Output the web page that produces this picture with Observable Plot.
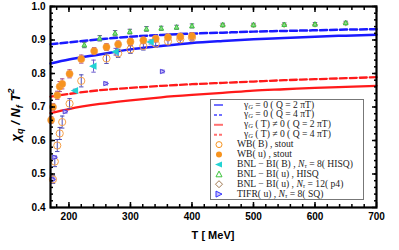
<!DOCTYPE html>
<html><head><meta charset="utf-8">
<script src="https://cdn.jsdelivr.net/npm/d3@7"></script>
<script src="https://cdn.jsdelivr.net/npm/@observablehq/plot@0.6"></script>
<style>
body{margin:0;background:#fff}
#c{position:relative;width:399px;height:250px}
#leg{position:absolute;left:210px;top:99px;width:154px;height:101px;border:1px solid #777;background:#fff;font-family:"Liberation Serif",serif;font-size:9.6px;color:#222;box-sizing:border-box;overflow:hidden}
#leg .row{position:absolute;left:0;height:10px;line-height:10px;white-space:nowrap}
#leg sub{font-size:6.5px;line-height:0;position:relative;top:1px;vertical-align:baseline;font-style:italic}
#leg svg{position:absolute;left:0;top:0}
</style>
</head><body><div id="c"></div>
<script>
// ---- curves ----
const T_curve = [170, 200, 250, 300, 350, 400, 450, 500, 550, 600, 650, 700];
const blueSolid = [0.830, 0.842, 0.857, 0.872, 0.882, 0.891, 0.897, 0.902, 0.906, 0.910, 0.913, 0.916];
const blueDash  = [0.887, 0.893, 0.902, 0.910, 0.915, 0.919, 0.922, 0.925, 0.927, 0.929, 0.931, 0.932];
const redSolid  = [0.682, 0.694, 0.709, 0.720, 0.729, 0.736, 0.742, 0.749, 0.753, 0.757, 0.760, 0.763];
const redDash   = [0.731, 0.739, 0.750, 0.757, 0.763, 0.768, 0.772, 0.776, 0.780, 0.783, 0.786, 0.789];

// ---- lattice data ----
const wbu_T   = [171, 174, 181, 185, 189, 201, 220, 241, 261, 280, 300, 321, 341, 361, 381, 400];
const wbu_v   = [0.661, 0.700, 0.735, 0.761, 0.769, 0.799, 0.843, 0.867, 0.879, 0.887, 0.895, 0.899, 0.904, 0.908, 0.910, 0.912];
const wbu_e   = [0.010, 0.010, 0.012, 0.015, 0.015, 0.012, 0.012, 0.010, 0.010, 0.010, 0.010, 0.010, 0.010, 0.010, 0.010, 0.010];

const wbb_T   = [174, 177, 181, 185, 189, 201, 220, 261, 280, 300, 321, 341, 361, 381, 400];
const wbb_v   = [0.484, 0.537, 0.585, 0.621, 0.655, 0.710, 0.778, 0.845, 0.860, 0.872, 0.882, 0.889, 0.896, 0.902, 0.907];
const wbb_e   = [0.012, 0.015, 0.018, 0.018, 0.018, 0.015, 0.018, 0.015, 0.012, 0.012, 0.012, 0.010, 0.010, 0.010, 0.010];

const bnlB_T  = [210, 240, 276, 333];
const bnlB_v  = [0.749, 0.822, 0.865, 0.894];
const bnlB_e  = [0.004, 0.018, 0.010, 0.006];

const bnlU_T  = [225, 250, 275, 299, 326, 350, 375, 400, 450, 500, 550, 600, 650];
const bnlU_v  = [0.885, 0.905, 0.920, 0.925, 0.933, 0.935, 0.938, 0.942, 0.945, 0.945, 0.946, 0.947, 0.951];
const bnlU_e  = [0.008, 0.008, 0.008, 0.007, 0.007, 0.006, 0.006, 0.006, 0.005, 0.005, 0.005, 0.005, 0.005];

const p4_T    = [450, 500, 550, 600, 650];
const p4_v    = [0.944, 0.944, 0.945, 0.946, 0.950];

const tifr_T  = [174, 177, 194, 260, 352];
const tifr_v  = [0.484, 0.550, 0.686, 0.770, 0.806];

const xTicks = [200, 300, 400, 500, 600, 700];
const yTicks = [0.4, 0.5, 0.6, 0.7, 0.8, 0.9, 1.0];
const xMinor = d3.range(180, 700, 20);
const yMinor = d3.range(0.42, 1.0, 0.02);

const legendLabels = [
  "γ<sub>G</sub> = 0 ( Q = 2 πT)",
  "γ<sub>G</sub> = 0 ( Q = 4 πT)",
  "γ<sub>G</sub> ( T) ≠ 0 ( Q = 2 πT)",
  "γ<sub>G</sub> ( T) ≠ 0 ( Q = 4 πT)",
  "WB( B) ,  stout",
  "WB( u) ,  stout",
  "BNL − BI( B) ,  <i>N</i><sub>τ</sub> = 8( HISQ)",
  "BNL − BI( u) ,  HISQ",
  "BNL − BI( u) ,  <i>N</i><sub>τ</sub> = 12( p4)",
  "TIFR( u) ,  <i>N</i><sub>τ</sub> = 8( SQ)"
];

// ---- build tables ----
const curves = [
  ...T_curve.map((t,i)=>({T:t, v:blueSolid[i], s:"bs"})),
  ...T_curve.map((t,i)=>({T:t, v:blueDash[i], s:"bd"})),
  ...T_curve.map((t,i)=>({T:t, v:redSolid[i], s:"rs"})),
  ...T_curve.map((t,i)=>({T:t, v:redDash[i], s:"rd"}))
];
const wbu = wbu_T.map((t,i)=>({T:t, v:wbu_v[i], e:wbu_e[i]}));
const wbb = wbb_T.map((t,i)=>({T:t, v:wbb_v[i], e:wbb_e[i]}));
const bnlB = bnlB_T.map((t,i)=>({T:t, v:bnlB_v[i], e:bnlB_e[i]}));
const bnlU = bnlU_T.map((t,i)=>({T:t, v:bnlU_v[i], e:bnlU_e[i]}));
const p4 = p4_T.map((t,i)=>({T:t, v:p4_v[i]}));
const tifr = tifr_T.map((t,i)=>({T:t, v:tifr_v[i], e:0.004}));

// custom symbols
const rr = s => Math.sqrt(s/Math.PI);
const hbar = {draw(c,s){const r=rr(s); c.moveTo(-r,0); c.lineTo(r,0);}};
const triLeft = {draw(c,s){const r=rr(s); c.moveTo(-r,0); c.lineTo(r*0.8,-r*0.85); c.lineTo(r*0.8,r*0.85); c.closePath();}};
const triRight = {draw(c,s){const r=rr(s); c.moveTo(r,0); c.lineTo(-r*0.8,-r*0.85); c.lineTo(-r*0.8,r*0.85); c.closePath();}};
const triUp = {draw(c,s){const r=rr(s); c.moveTo(0,-r); c.lineTo(r*0.9,r*0.7); c.lineTo(-r*0.9,r*0.7); c.closePath();}};
const diamond = {draw(c,s){const r=rr(s); c.moveTo(0,-r); c.lineTo(r,0); c.lineTo(0,r); c.lineTo(-r,0); c.closePath();}};

const ORANGE = "#f7931e", OPEN = "#f5a04a", EB1 = "#a0468c", EB2 = "#4d4db8";
const CYAN = "#22d3d3", GREEN = "#3cc43c", PURP = "#5544dd", BROWN = "#a07850";

function errMarks(data, color){
  return [
    Plot.ruleX(data, {x:"T", y1:d=>d.v-d.e, y2:d=>d.v+d.e, stroke:color, strokeWidth:1}),
    Plot.dot(data, {x:"T", y:d=>d.v-d.e, symbol:hbar, r:2.2, stroke:color, strokeWidth:1}),
    Plot.dot(data, {x:"T", y:d=>d.v+d.e, symbol:hbar, r:2.2, stroke:color, strokeWidth:1})
  ];
}

const chart = Plot.plot({
  width: 399, height: 250,
  marginLeft: 50, marginRight: 23, marginTop: 6, marginBottom: 43,
  style: {fontFamily: "Liberation Sans, Arial, sans-serif", background: "#fff"},
  x: {domain: [170, 700]},
  y: {domain: [0.4, 1.0]},
  marks: [
    Plot.line(curves.filter(d=>d.s==="rs"), {x:"T", y:"v", stroke:"#ff1a1a", strokeWidth:2.3, curve:"monotone-x"}),
    Plot.line(curves.filter(d=>d.s==="rd"), {x:"T", y:"v", stroke:"#ff1a1a", strokeWidth:2.3, strokeDasharray:"7,3", curve:"monotone-x"}),
    Plot.line(curves.filter(d=>d.s==="bs"), {x:"T", y:"v", stroke:"#1a1aff", strokeWidth:2.5, curve:"monotone-x"}),
    Plot.line(curves.filter(d=>d.s==="bd"), {x:"T", y:"v", stroke:"#1a1aff", strokeWidth:2.5, strokeDasharray:"7,3", curve:"monotone-x"}),
    ...errMarks(bnlU, "#5a5a8a"),
    Plot.dot(p4, {x:"T", y:"v", symbol:diamond, r:2.6, stroke:BROWN, strokeWidth:0.8}),
    Plot.dot(bnlU, {x:"T", y:"v", symbol:triUp, r:2.6, stroke:GREEN, fill:"#8fd88f", strokeWidth:1}),
    ...errMarks(wbb, EB2),
    Plot.dot(wbb, {x:"T", y:"v", r:3.6, stroke:OPEN, strokeWidth:1, fill:"none"}),
    ...errMarks(wbu, EB1),
    Plot.dot(wbu, {x:"T", y:"v", r:3.6, fill:ORANGE, stroke:"#f5a050", strokeWidth:0.5}),
    ...errMarks(bnlB, "#6a5acd"),
    Plot.dot(bnlB, {x:"T", y:"v", symbol:triLeft, r:2.8, fill:CYAN, stroke:CYAN}),
    ...errMarks(tifr, PURP),
    Plot.dot(tifr, {x:"T", y:"v", symbol:triRight, r:2.6, stroke:PURP, fill:"#c8c0f8", strokeWidth:1}),
    // axes labels
    Plot.axisX(xTicks, {anchor:"bottom", tickSize:0, tickPadding:5, fontSize:10, fontWeight:"bold", label:null, tickFormat:d=>String(d)}),
    Plot.axisY(yTicks, {anchor:"left", tickSize:0, tickPadding:5, fontSize:10, fontWeight:"bold", label:null, tickFormat:d3.format(".1f")}),
    // inward ticks all sides
    Plot.axisX(xTicks, {anchor:"bottom", tickSize:-5, strokeWidth:1.5, tickFormat:()=>"", label:null}),
    Plot.axisX(xMinor, {anchor:"bottom", tickSize:-3, strokeWidth:1.5, tickFormat:()=>"", label:null}),
    Plot.axisX(xTicks, {anchor:"top", tickSize:-5, strokeWidth:1.5, tickFormat:()=>"", label:null}),
    Plot.axisX(xMinor, {anchor:"top", tickSize:-3, strokeWidth:1.5, tickFormat:()=>"", label:null}),
    Plot.axisY(yTicks, {anchor:"left", tickSize:-5, strokeWidth:1.5, tickFormat:()=>"", label:null}),
    Plot.axisY(yMinor, {anchor:"left", tickSize:-3, strokeWidth:1.5, tickFormat:()=>"", label:null}),
    Plot.axisY(yTicks, {anchor:"right", tickSize:-5, strokeWidth:1.5, tickFormat:()=>"", label:null}),
    Plot.axisY(yMinor, {anchor:"right", tickSize:-3, strokeWidth:1.5, tickFormat:()=>"", label:null}),
    Plot.frame({stroke:"#000", strokeWidth:2.2})
  ]
});

const svg = d3.select(chart);
// y label
const yl = svg.append("text")
  .attr("transform", "translate(20,115) rotate(-90)")
  .attr("text-anchor", "middle")
  .attr("font-family", "Liberation Sans, Arial, sans-serif")
  .attr("font-weight", "bold").attr("font-style", "italic")
  .attr("font-size", 13).attr("fill", "#000");
yl.append("tspan").text("χ");
yl.append("tspan").attr("font-size", 9).attr("dy", 3).text("q");
yl.append("tspan").attr("dy", -3).text(" / N");
yl.append("tspan").attr("font-size", 9).attr("dy", 3).text("f");
yl.append("tspan").attr("dy", -3).text(" T");
yl.append("tspan").attr("font-size", 9).attr("dy", -6).text("2");
// x label
svg.append("text")
  .attr("x", 213).attr("y", 239).attr("text-anchor", "middle")
  .attr("font-family", "Liberation Sans, Arial, sans-serif")
  .attr("font-weight", "bold").attr("font-size", 11).attr("fill", "#000")
  .text("T [ MeV]");

const c = document.getElementById("c");
c.appendChild(chart);

// legend
const leg = document.createElement("div");
leg.id = "leg";
const lsvg = d3.create("svg").attr("width", 30).attr("height", 101);
const rowY = i => 5 + i * 9.9;
const lineStyles = [["#7070ff", null], ["#7070ff", "3,2"], ["#ff7070", null], ["#ff7070", "3,2"]];
lineStyles.forEach(([col, dash], i) => {
  const l = lsvg.append("line").attr("x1", 3).attr("x2", 12).attr("y1", rowY(i)).attr("y2", rowY(i))
    .attr("stroke", col).attr("stroke-width", 2);
  if (dash) l.attr("stroke-dasharray", dash);
});
lsvg.append("circle").attr("cx", 8).attr("cy", rowY(4)).attr("r", 3).attr("fill", "none").attr("stroke", ORANGE).attr("stroke-width", 1);
lsvg.append("circle").attr("cx", 8).attr("cy", rowY(5)).attr("r", 3).attr("fill", ORANGE);
lsvg.append("path").attr("d", `M4,${rowY(6)} L11,${rowY(6)-3} L11,${rowY(6)+3} Z`).attr("fill", CYAN);
lsvg.append("path").attr("d", `M8,${rowY(7)-3.2} L11,${rowY(7)+2.5} L5,${rowY(7)+2.5} Z`).attr("fill", "none").attr("stroke", GREEN);
lsvg.append("path").attr("d", `M8,${rowY(8)-3.5} L11.5,${rowY(8)} L8,${rowY(8)+3.5} L4.5,${rowY(8)} Z`).attr("fill", "none").attr("stroke", BROWN);
lsvg.append("path").attr("d", `M11,${rowY(9)} L5,${rowY(9)-3} L5,${rowY(9)+3} Z`).attr("fill", "#c8c0f8").attr("stroke", "#3333ff");
leg.appendChild(lsvg.node());
legendLabels.forEach((lab, i) => {
  const r = document.createElement("div");
  r.className = "row";
  r.style.top = (rowY(i) - 5.5) + "px";
  r.style.left = (i < 4 ? 33 : 26) + "px";
  r.innerHTML = lab;
  leg.appendChild(r);
});
c.appendChild(leg);
</script>
</body></html>
